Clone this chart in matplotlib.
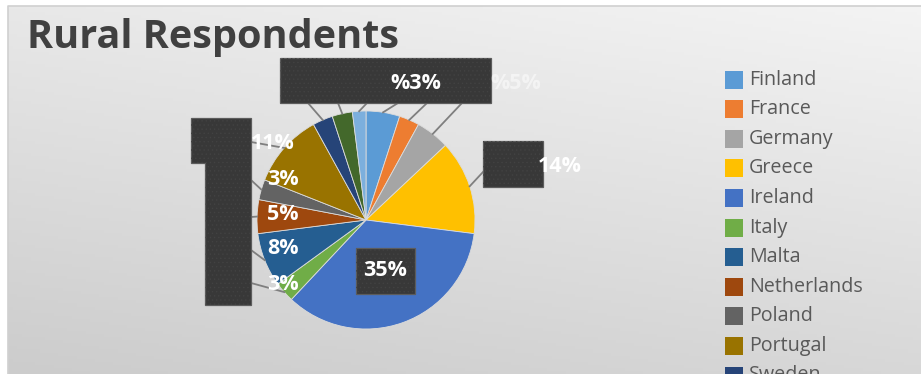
import numpy as np
import matplotlib
matplotlib.use("Agg")
import matplotlib.pyplot as plt
from matplotlib.patches import Rectangle, Polygon

plt.rcParams['font.family'] = ['Open Sans', 'DejaVu Sans']
plt.rcParams['hatch.linewidth'] = 0.5

# survey shares (%) by country
countries = ['Finland', 'France', 'Germany', 'Greece', 'Ireland', 'Italy', 'Malta',
             'Netherlands', 'Poland', 'Portugal', 'Sweden', 'UK', 'Other']
shares = [5, 3, 5, 14, 35, 3, 8, 5, 3, 11, 3, 3, 2]
colors = ['#5B9BD5', '#ED7D31', '#A5A5A5', '#FFC000', '#4472C4', '#70AD47', '#255E91',
          '#9E480E', '#636363', '#997300', '#264478', '#43682B', '#7CAFDD']

W, H = 921, 374
fig = plt.figure(figsize=(W / 100, H / 100), dpi=100)
fig.patch.set_facecolor('white')
ax = fig.add_axes([0, 0, 1, 1])

def Y(y):
    return H - y

# chart area background gradient
x0, ytop = 8, 6
gx = np.linspace(0, 1, 200)
gy = np.linspace(0, 1, 120)
GX, GY = np.meshgrid(gx, gy)
grad = 0.91 + 0.045 * GX - 0.11 * GY
img = np.dstack([grad, grad, grad])
ax.imshow(img, extent=(x0, W, Y(H), Y(ytop)), origin='upper', aspect='auto', zorder=0)
ax.plot([x0, x0, W], [Y(H), Y(ytop), Y(ytop)], color='#d0d0d0', lw=1.2, zorder=1)

# pie
cx, cy, r = 366, 220, 109
wedges, _ = ax.pie(shares, colors=colors, startangle=90, counterclock=False,
                   center=(cx, Y(cy)), radius=r,
                   wedgeprops=dict(linewidth=0.6, edgecolor='#dcdcdc', zorder=3))

def edge_point(i):
    cum = sum(shares[:i]) + shares[i] / 2
    a = np.deg2rad(cum / sum(shares) * 360)
    return cx + r * np.sin(a), cy - r * np.cos(a)

# label boxes (dark fill with a faint dot texture)
def dark_box(verts):
    ax.add_patch(Polygon(verts, closed=True, facecolor='#383838', edgecolor='#5c5c5c',
                         lw=0.9, zorder=5))
    ax.add_patch(Polygon(verts, closed=True, fill=False, edgecolor='#424242', lw=0,
                         hatch='....', zorder=5))

def rect(x, y, w, h):
    return [(x, Y(y)), (x + w, Y(y)), (x + w, Y(y + h)), (x, Y(y + h))]

dark_box(rect(280, 58, 211, 45))
dark_box([(191, Y(118)), (251, Y(118)), (251, Y(305)), (205, Y(305)),
          (205, Y(163)), (191, Y(163))])
dark_box(rect(483, 141, 60, 46))
dark_box(rect(356, 248, 59, 46))

# leader lines
leaders = {10: (308, 103), 11: (338, 103), 12: (367, 103), 0: (398, 103), 1: (427, 103),
           2: (462, 103), 9: (251, 142), 8: (251, 180), 7: (251, 217), 6: (251, 250),
           5: (251, 283), 3: (483, 172)}
for i, (bx, by) in leaders.items():
    ex, ey = edge_point(i)
    ax.plot([bx, ex], [Y(by), Y(ey)], color='#7f7f7f', lw=1.3, zorder=4)

# data labels
lab_kw = dict(color='white', fontsize=15.5, fontweight='bold', ha='center', va='center', zorder=6)
ax.text(416, Y(83), '%' + f'{shares[1]}%', **lab_kw)
ax.text(516, Y(83), '%' + f'{shares[2]}%', **dict(lab_kw, alpha=0.5))
ax.text(273, Y(143), f'{shares[9]}%', **lab_kw)
ax.text(283, Y(179), f'{shares[8]}%', **lab_kw)
ax.text(283, Y(214), f'{shares[7]}%', **lab_kw)
ax.text(283, Y(248), f'{shares[6]}%', **lab_kw)
ax.text(283, Y(285), f'{shares[5]}%', **lab_kw)
ax.text(560, Y(166), f'{shares[3]}%', **lab_kw)
ax.text(385, Y(271), f'{shares[4]}%', **lab_kw)

# title
ax.text(27, Y(48), 'Rural Respondents', fontsize=28.5, fontweight='bold', color='#404040',
        ha='left', va='baseline', zorder=6)

# legend
for k, (name, col) in enumerate(zip(countries, colors)):
    yc = 79.5 + k * 29.6
    ax.add_patch(Rectangle((725, Y(yc + 9)), 18, 18, facecolor=col, edgecolor='none', zorder=6))
    ax.text(749, Y(yc), name, fontsize=14.2, color='#595959', ha='left', va='center', zorder=6)

ax.set_xlim(0, W)
ax.set_ylim(0, H)
ax.set_aspect('auto')
ax.axis('off')

fig.savefig('out.png', dpi=100)
